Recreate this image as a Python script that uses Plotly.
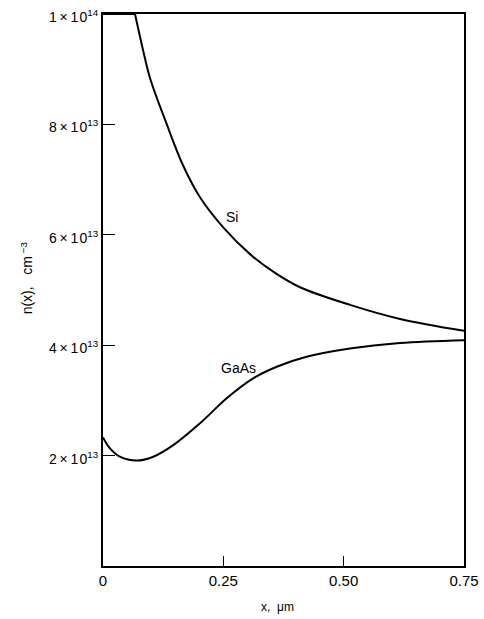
import plotly.graph_objects as go

# Data
si_x = [0.0, 0.0665, 0.0831, 0.0976, 0.1330, 0.1662, 0.2015, 0.2493, 0.3054, 0.3574, 0.4093, 0.5132, 0.6171, 0.75]
si_y = [1.0e14, 1.0e14, 9.35e13, 8.84e13, 7.99e13, 7.26e13, 6.68e13, 6.14e13, 5.65e13, 5.31e13, 5.05e13, 4.73e13, 4.475e13, 4.26e13]

gaas_x = [0.0, 0.0145, 0.035, 0.070, 0.1045, 0.146, 0.2015, 0.257, 0.312, 0.361, 0.423, 0.513, 0.617, 0.75]
gaas_y = [2.33e13, 2.13e13, 1.98e13, 1.91e13, 1.98e13, 2.19e13, 2.585e13, 3.04e13, 3.40e13, 3.61e13, 3.79e13, 3.94e13, 4.04e13, 4.09e13]

x_tickvals = [0, 0.25, 0.50, 0.75]
x_ticktext = ["0", "0.25", "0.50", "0.75"]
y_tickvals = [2e13, 4e13, 6e13, 8e13, 1e14]
y_ticktext = ["2\u2009×\u20091\u200a0<sup>13</sup>", "4\u2009×\u20091\u200a0<sup>13</sup>", "6\u2009×\u20091\u200a0<sup>13</sup>",
              "8\u2009×\u20091\u200a0<sup>13</sup>", "1\u2009×\u20091\u200a0<sup>14</sup>"]

labels = [("Si", 0.269, 6.32e13), ("GaAs", 0.2815, 3.587e13)]

FONT = "Liberation Sans, Arial, sans-serif"
LINE = dict(color="black", width=2)

fig = go.Figure()
# flat (clipped) part of the Si curve along the top edge
fig.add_trace(go.Scatter(x=si_x[:2], y=si_y[:2], mode="lines", line=LINE, showlegend=False, hoverinfo="skip"))
fig.add_trace(go.Scatter(x=si_x[1:], y=si_y[1:], mode="lines", line=dict(LINE, shape="spline", smoothing=1),
                         showlegend=False, hoverinfo="skip"))
fig.add_trace(go.Scatter(x=gaas_x, y=gaas_y, mode="lines", line=dict(LINE, shape="spline", smoothing=1),
                         showlegend=False, hoverinfo="skip"))

for text, lx, ly in labels:
    fig.add_annotation(x=lx, y=ly, text=text, showarrow=False, font=dict(family=FONT, size=14, color="black"))

fig.add_annotation(text="x,  μm", xref="paper", yref="paper", x=0.482, y=-0.074, showarrow=False,
                   yanchor="middle", font=dict(family=FONT, size=12, color="black"))
fig.add_annotation(text="n(x),   cm<sup> −3</sup>", xref="paper", yref="paper", x=-0.212, y=0.522, showarrow=False,
                   textangle=-90, xanchor="center", yanchor="middle", font=dict(family=FONT, size=14, color="black"))

fig.update_layout(
    width=484, height=619,
    margin=dict(l=103, r=20, t=14, b=53),
    paper_bgcolor="white", plot_bgcolor="white",
    font=dict(family=FONT, size=14, color="black"),
    xaxis=dict(range=[0, 0.75], tickvals=x_tickvals, ticktext=x_ticktext, ticks="inside", ticklen=10,
               tickwidth=1.2, tickcolor="black", showgrid=False, zeroline=False, showline=True,
               linecolor="black", linewidth=2, mirror=True, tickfont=dict(size=15), automargin=False,
               ticklabeloverflow="allow"),
    yaxis=dict(range=[0, 1e14], tickvals=y_tickvals, ticktext=y_ticktext, ticks="inside", ticklen=12,
               tickwidth=1.2, tickcolor="black", showgrid=False, zeroline=False, showline=True,
               linecolor="black", linewidth=2, mirror=True, tickfont=dict(size=14), automargin=False,
               ticklabeloverflow="allow", ticklabelshift=3),
)

fig.write_html("out.html", config={"displayModeBar": False},
               post_script="document.body.style.margin='0px';")
